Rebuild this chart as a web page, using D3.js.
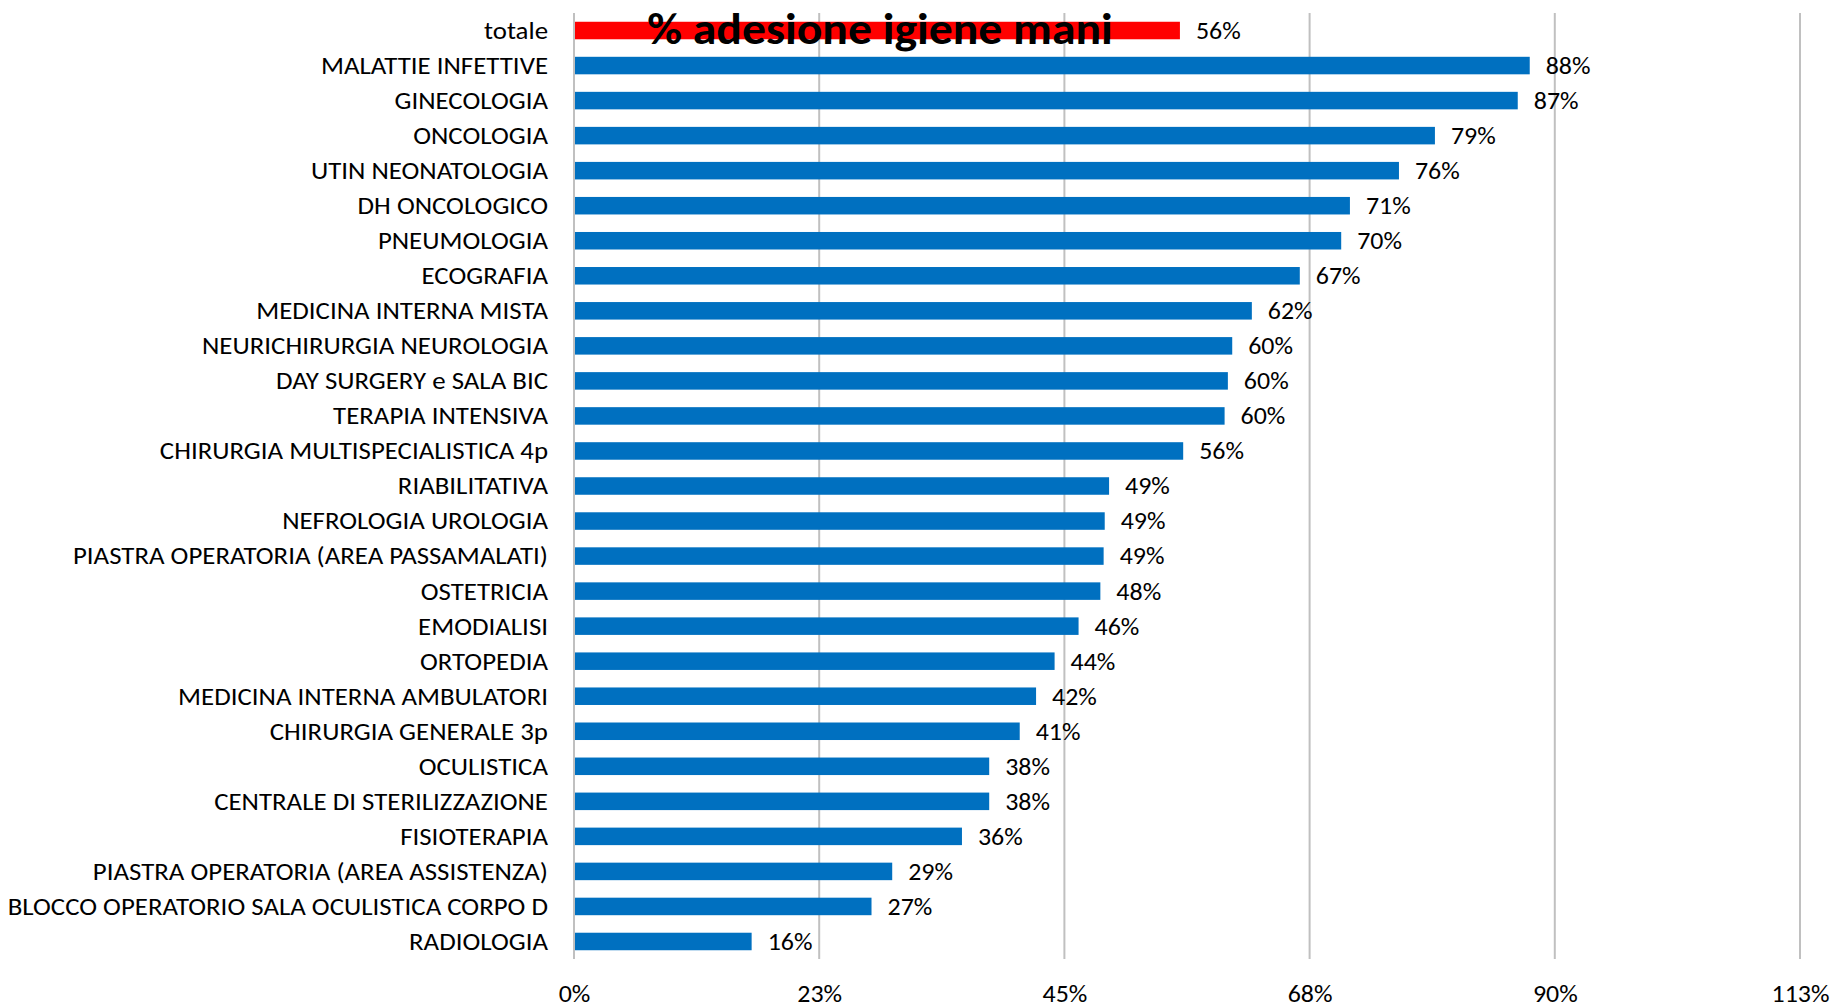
<!DOCTYPE html>
<html lang="it">
<head>
    <meta charset="UTF-8">
    <title>% adesione igiene mani</title>
    <script src="https://d3js.org/d3.v7.min.js"></script>
    <style>
        body { margin: 0; background: #fff; }
        text { font-family: Carlito, Calibri, Lato, sans-serif; fill: #000; }
        .bar { fill: #0070C0; }
        .bar.tot { fill: #FF0000; }
        .grid line { stroke: #C0C0C0; stroke-width: 2; }
    </style>
</head>
<body>
<svg width="1833" height="1005"></svg>
<script>
    var categories = [
        "totale", "MALATTIE INFETTIVE", "GINECOLOGIA", "ONCOLOGIA", "UTIN NEONATOLOGIA",
        "DH ONCOLOGICO", "PNEUMOLOGIA", "ECOGRAFIA", "MEDICINA INTERNA MISTA",
        "NEURICHIRURGIA NEUROLOGIA", "DAY SURGERY e SALA BIC", "TERAPIA INTENSIVA",
        "CHIRURGIA MULTISPECIALISTICA 4p", "RIABILITATIVA", "NEFROLOGIA UROLOGIA",
        "PIASTRA OPERATORIA (AREA PASSAMALATI)", "OSTETRICIA", "EMODIALISI", "ORTOPEDIA",
        "MEDICINA INTERNA AMBULATORI", "CHIRURGIA GENERALE 3p", "OCULISTICA",
        "CENTRALE DI STERILIZZAZIONE", "FISIOTERAPIA", "PIASTRA OPERATORIA (AREA ASSISTENZA)",
        "BLOCCO OPERATORIO SALA OCULISTICA CORPO D", "RADIOLOGIA"
    ];
    var values = [
        0.556, 0.877, 0.866, 0.790, 0.757,
        0.712, 0.704, 0.666, 0.622,
        0.604, 0.600, 0.597,
        0.559, 0.491, 0.487,
        0.486, 0.483, 0.463, 0.441,
        0.424, 0.409, 0.381,
        0.381, 0.356, 0.292,
        0.273, 0.163
    ];
    var tickValues = [0, 0.225, 0.45, 0.675, 0.9, 1.125];
    var tickLabels = ["0%", "23%", "45%", "68%", "90%", "113%"];
    var title = "% adesione igiene mani";

    var data = categories.map(function(c, i) { return { name: c, value: values[i] }; });

    var svg = d3.select("svg");
    var plotTop = 13, plotBottom = 959;
    var fontSize = 24, stretch = 1.12; // the original text is a bit wider than Carlito

    var x = d3.scaleLinear().domain([0, 1.125]).range([574, 1800]);
    var y = d3.scaleBand().domain(categories).range([plotTop, plotBottom])
        .paddingInner(0.5).paddingOuter(0.25);
    var fmt = d3.format(".0%");

    function place(px, py, s) {
        return "translate(" + px + "," + py + ") scale(" + s + ",1)";
    }

    // vertical gridlines (the 0 one doubles as the axis line)
    svg.append("g").attr("class", "grid")
        .selectAll("line")
        .data(tickValues)
        .enter().append("line")
        .attr("x1", function(d) { return x(d); })
        .attr("x2", function(d) { return x(d); })
        .attr("y1", plotTop)
        .attr("y2", plotBottom);

    // x tick labels
    var xAxis = d3.axisBottom(x)
        .tickValues(tickValues)
        .tickSize(0)
        .tickPadding(0)
        .tickFormat(function(d, i) { return tickLabels[i]; });
    var gx = svg.append("g")
        .attr("transform", "translate(0," + 994 + ")")
        .call(xAxis);
    gx.select(".domain").remove();
    gx.selectAll("text")
        .attr("dy", "0.35em")
        .attr("y", 0)
        .attr("transform", "scale(1.08,1)")
        .style("font-family", "Carlito, Calibri, Lato, sans-serif")
        .style("font-size", fontSize + "px");

    // category labels
    svg.append("g")
        .selectAll("text")
        .data(data)
        .enter().append("text")
        .attr("transform", function(d) { return place(548, y(d.name) + y.bandwidth() / 2, stretch); })
        .attr("dy", "0.35em")
        .attr("text-anchor", "end")
        .style("font-size", fontSize + "px")
        .text(function(d) { return d.name; });

    // bars
    svg.append("g")
        .selectAll("rect")
        .data(data)
        .enter().append("rect")
        .attr("class", function(d, i) { return i === 0 ? "bar tot" : "bar"; })
        .attr("x", x(0) + 1)
        .attr("y", function(d) { return y(d.name); })
        .attr("width", function(d) { return x(d.value) - x(0) - 1; })
        .attr("height", y.bandwidth());

    // value labels
    svg.append("g")
        .selectAll("text")
        .data(data)
        .enter().append("text")
        .attr("transform", function(d) { return place(x(d.value) + 16, y(d.name) + y.bandwidth() / 2, 1.08); })
        .attr("dy", "0.35em")
        .style("font-size", fontSize + "px")
        .text(function(d) { return fmt(d.value); });

    // title drawn over the first bar, as in the original
    svg.append("text")
        .attr("transform", place(880, 43.5, 1.06))
        .attr("text-anchor", "middle")
        .style("font-size", "45px")
        .style("font-weight", "bold")
        .text(title);
</script>
</body>
</html>
